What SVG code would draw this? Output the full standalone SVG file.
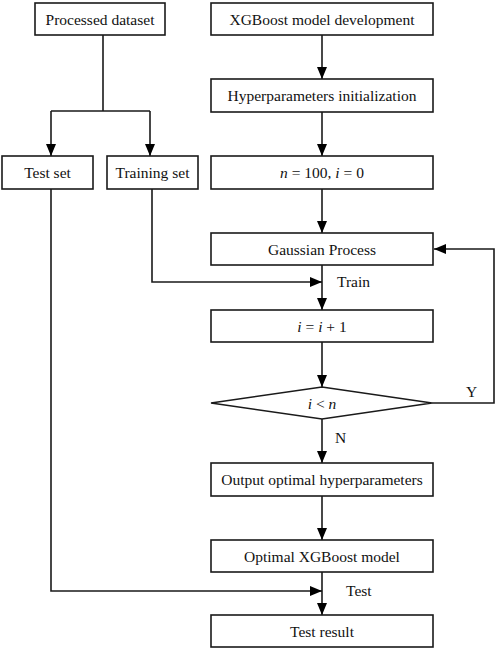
<svg xmlns="http://www.w3.org/2000/svg" width="498" height="650" viewBox="0 0 498 650">
<style>
.box{fill:#fff;stroke:#1a1a1a;stroke-width:1.6}
.t{font-family:"Liberation Serif","Times New Roman",serif;font-size:15.5px;fill:#111;text-anchor:middle}
.l{font-family:"Liberation Serif","Times New Roman",serif;font-size:15.5px;fill:#111}
.c{fill:none;stroke:#1a1a1a;stroke-width:1.6}
</style>
<defs>
<marker id="arr" markerWidth="12" markerHeight="10" refX="12" refY="5" orient="auto" markerUnits="userSpaceOnUse">
<path d="M0,0 L12,5 L0,10 z" fill="#000"/>
</marker>
</defs>
<rect width="498" height="650" fill="#fff"/>
<g id="connectors">
<path class="c" d="M103,35 V111 M51,111 H150"/>
<path class="c" d="M51,111 V156" marker-end="url(#arr)"/>
<path class="c" d="M150,111 V156" marker-end="url(#arr)"/>
<path class="c" d="M322,35 V79" marker-end="url(#arr)"/>
<path class="c" d="M322,112 V156" marker-end="url(#arr)"/>
<path class="c" d="M322,189 V233" marker-end="url(#arr)"/>
<path class="c" d="M322,265 V310" marker-end="url(#arr)"/>
<path class="c" d="M152,189 V282 H322" marker-end="url(#arr)"/>
<path class="c" d="M322,342 V387" marker-end="url(#arr)"/>
<path class="c" d="M432,403 H494 V249 H434" marker-end="url(#arr)"/>
<path class="c" d="M322,419 V463" marker-end="url(#arr)"/>
<path class="c" d="M322,496 V540" marker-end="url(#arr)"/>
<path class="c" d="M322,572 V615" marker-end="url(#arr)"/>
<path class="c" d="M51,189 V591 H322" marker-end="url(#arr)"/>
<text class="l" x="337" y="287">Train</text>
<text class="l" x="466" y="397">Y</text>
<text class="l" x="335" y="443">N</text>
<text class="l" x="346" y="596">Test</text>
</g>
<g id="processed"><rect class="box" x="35" y="3" width="130" height="32"/><text class="t" x="100" y="24.5">Processed dataset</text></g>
<g id="testset"><rect class="box" x="2" y="156" width="91" height="33"/><text class="t" x="47.5" y="178">Test set</text></g>
<g id="trainingset"><rect class="box" x="107" y="156" width="91" height="33"/><text class="t" x="152.5" y="178">Training set</text></g>
<g id="xgbdev"><rect class="box" x="211" y="3" width="222" height="32"/><text class="t" x="322" y="24.5">XGBoost model development</text></g>
<g id="hyperinit"><rect class="box" x="211" y="79" width="222" height="33"/><text class="t" x="322" y="101">Hyperparameters initialization</text></g>
<g id="ninit"><rect class="box" x="211" y="156" width="222" height="33"/><text class="t" x="322" y="178"><tspan font-style="italic">n</tspan> = 100, <tspan font-style="italic">i</tspan> = 0</text></g>
<g id="gaussian"><rect class="box" x="211" y="233" width="222" height="32"/><text class="t" x="322" y="254.5">Gaussian Process</text></g>
<g id="increment"><rect class="box" x="211" y="310" width="222" height="32"/><text class="t" x="322" y="331.5"><tspan font-style="italic">i</tspan> = <tspan font-style="italic">i</tspan> + 1</text></g>
<g id="decision"><polygon class="box" points="211,403 322,387 432,403 322,419"/><text class="t" x="322" y="408.5"><tspan font-style="italic">i</tspan> &lt; <tspan font-style="italic">n</tspan></text></g>
<g id="output"><rect class="box" x="211" y="463" width="222" height="33"/><text class="t" x="322" y="485">Output optimal hyperparameters</text></g>
<g id="optimal"><rect class="box" x="211" y="540" width="222" height="32"/><text class="t" x="322" y="561.5">Optimal XGBoost model</text></g>
<g id="testresult"><rect class="box" x="211" y="615" width="222" height="32"/><text class="t" x="322" y="636.5">Test result</text></g>
</svg>
